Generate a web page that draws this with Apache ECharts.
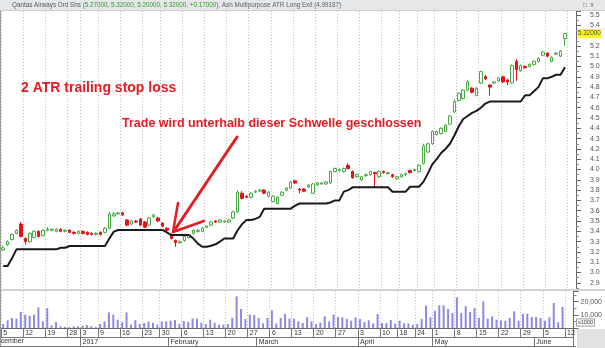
<!DOCTYPE html>
<html><head><meta charset="utf-8">
<script src="https://cdn.jsdelivr.net/npm/echarts@6/dist/echarts.min.js"></script>
<style>html,body{margin:0;padding:0;background:#fff;overflow:hidden}#c{width:605px;height:348px}</style>
</head><body><div id="c"></div>
<script>
// ---- data ----
const dates = [
'2016-12-05','2016-12-06','2016-12-07','2016-12-08','2016-12-09','2016-12-12','2016-12-13','2016-12-14','2016-12-15','2016-12-16',
'2016-12-19','2016-12-20','2016-12-21','2016-12-22','2016-12-23','2016-12-28','2016-12-29','2016-12-30',
'2017-01-03','2017-01-04','2017-01-05','2017-01-06','2017-01-09','2017-01-10','2017-01-11','2017-01-12','2017-01-13',
'2017-01-16','2017-01-17','2017-01-18','2017-01-19','2017-01-20','2017-01-23','2017-01-24','2017-01-25','2017-01-27','2017-01-30','2017-01-31',
'2017-02-01','2017-02-02','2017-02-03','2017-02-06','2017-02-07','2017-02-08','2017-02-09','2017-02-10','2017-02-13','2017-02-14','2017-02-15','2017-02-16','2017-02-17',
'2017-02-20','2017-02-21','2017-02-22','2017-02-23','2017-02-24','2017-02-27','2017-02-28',
'2017-03-01','2017-03-02','2017-03-03','2017-03-06','2017-03-07','2017-03-08','2017-03-09','2017-03-10','2017-03-13','2017-03-14','2017-03-15','2017-03-16','2017-03-17',
'2017-03-20','2017-03-21','2017-03-22','2017-03-23','2017-03-24','2017-03-27','2017-03-28','2017-03-29','2017-03-30','2017-03-31',
'2017-04-03','2017-04-04','2017-04-05','2017-04-06','2017-04-07','2017-04-10','2017-04-11','2017-04-12','2017-04-13',
'2017-04-18','2017-04-19','2017-04-20','2017-04-21','2017-04-24','2017-04-26','2017-04-27','2017-04-28',
'2017-05-01','2017-05-02','2017-05-03','2017-05-04','2017-05-05','2017-05-08','2017-05-09','2017-05-10','2017-05-11','2017-05-12',
'2017-05-15','2017-05-16','2017-05-17','2017-05-18','2017-05-19','2017-05-22','2017-05-23','2017-05-24','2017-05-25','2017-05-26',
'2017-05-29','2017-05-30','2017-05-31','2017-06-01','2017-06-02','2017-06-05','2017-06-06','2017-06-07','2017-06-08','2017-06-09'
];
const padDates = ['2017-06-12','2017-06-13'];

const open = [
3.22,3.27,3.32,3.38,3.47,3.33,3.30,3.34,3.40,3.36,
3.41,3.41,3.40,3.42,3.40,3.41,3.39,3.38,3.40,3.39,
3.38,3.37,3.39,3.39,3.43,3.55,3.57,3.58,3.51,3.47,
3.50,3.52,3.49,3.46,3.54,3.53,3.48,3.43,3.37,3.31,
3.29,3.31,3.34,3.38,3.40,3.40,3.44,3.46,3.50,3.49,
3.49,3.49,3.53,3.59,3.77,3.74,3.73,3.78,3.79,3.80,
3.74,3.69,3.67,3.75,3.80,3.82,3.89,3.81,3.81,3.83,
3.77,3.85,3.86,3.86,3.87,3.98,3.99,3.98,4.04,3.98,
3.93,3.90,3.94,3.95,3.97,3.93,3.98,3.96,3.95,3.91,
3.93,3.95,3.99,3.99,3.98,4.06,4.17,4.25,4.34,4.35,
4.37,4.44,4.56,4.67,4.69,4.77,4.79,4.72,4.84,4.90,
4.82,4.84,4.86,4.90,4.87,4.84,5.05,4.96,5.00,5.00,
5.02,5.05,5.11,5.13,5.05,5.12,5.10,5.27
];
const high = [
3.26,3.31,3.38,3.42,3.49,3.34,3.39,3.41,3.41,3.42,
3.44,3.43,3.43,3.43,3.42,3.42,3.40,3.41,3.41,3.40,
3.39,3.39,3.40,3.44,3.59,3.59,3.59,3.59,3.52,3.51,
3.51,3.53,3.50,3.54,3.57,3.54,3.49,3.44,3.38,3.32,
3.31,3.36,3.37,3.42,3.42,3.44,3.46,3.50,3.51,3.52,
3.51,3.52,3.60,3.80,3.79,3.75,3.78,3.80,3.81,3.81,
3.79,3.75,3.74,3.79,3.83,3.89,3.90,3.82,3.82,3.86,
3.87,3.88,3.88,3.89,3.99,4.02,4.01,4.02,4.06,3.99,
3.96,3.94,3.96,3.99,3.98,3.99,3.99,3.98,3.96,3.94,
3.96,3.97,4.00,4.01,4.05,4.25,4.26,4.38,4.38,4.41,
4.44,4.53,4.68,4.75,4.78,4.87,4.80,4.80,4.96,4.92,
4.83,4.86,4.90,4.91,4.88,5.02,5.07,5.02,5.01,5.03,
5.06,5.09,5.15,5.14,5.10,5.14,5.16,5.32
];
const low = [
3.21,3.26,3.31,3.37,3.34,3.27,3.29,3.33,3.34,3.35,
3.40,3.40,3.39,3.39,3.39,3.38,3.37,3.37,3.37,3.36,
3.36,3.36,3.36,3.38,3.42,3.54,3.56,3.55,3.45,3.46,
3.48,3.45,3.43,3.45,3.53,3.49,3.44,3.40,3.32,3.25,
3.28,3.30,3.33,3.37,3.39,3.39,3.43,3.45,3.48,3.48,
3.48,3.48,3.52,3.58,3.71,3.72,3.72,3.77,3.78,3.76,
3.73,3.68,3.66,3.74,3.79,3.81,3.86,3.77,3.78,3.82,
3.76,3.84,3.85,3.85,3.86,3.97,3.98,3.97,4.00,3.91,
3.92,3.89,3.93,3.94,3.83,3.92,3.96,3.95,3.92,3.90,
3.92,3.94,3.96,3.98,3.97,4.05,4.16,4.24,4.33,4.34,
4.36,4.43,4.55,4.66,4.68,4.76,4.74,4.71,4.83,4.87,
4.72,4.83,4.85,4.84,4.82,4.83,4.86,4.95,4.98,4.99,
5.01,5.04,5.10,5.09,5.04,5.11,5.09,5.20
];
const close = [
3.24,3.30,3.37,3.41,3.35,3.30,3.38,3.40,3.35,3.41,
3.42,3.42,3.42,3.40,3.41,3.39,3.38,3.40,3.38,3.37,
3.37,3.38,3.37,3.43,3.57,3.57,3.58,3.56,3.46,3.50,
3.49,3.46,3.44,3.53,3.56,3.50,3.45,3.41,3.33,3.29,
3.30,3.35,3.36,3.41,3.41,3.43,3.45,3.49,3.49,3.51,
3.50,3.51,3.59,3.78,3.72,3.73,3.77,3.79,3.80,3.77,
3.78,3.74,3.73,3.78,3.82,3.88,3.87,3.80,3.79,3.85,
3.86,3.87,3.87,3.88,3.98,4.01,4.00,4.01,4.01,3.92,
3.95,3.93,3.95,3.98,3.96,3.98,3.97,3.97,3.93,3.93,
3.95,3.96,3.97,4.00,4.04,4.23,4.25,4.37,4.37,4.40,
4.43,4.52,4.66,4.74,4.77,4.85,4.75,4.79,4.95,4.88,
4.80,4.85,4.89,4.85,4.85,5.01,4.97,5.01,4.99,5.02,
5.05,5.08,5.14,5.10,5.09,5.13,5.15,5.32
];
const stop = [
3.063,3.063,3.14,3.225,3.225,3.225,3.225,3.225,3.225,3.225,
3.225,3.225,3.225,3.24,3.24,3.257,3.257,3.257,3.257,3.257,
3.257,3.257,3.257,3.257,3.33,3.397,3.413,3.413,3.413,3.413,
3.413,3.413,3.413,3.413,3.413,3.413,3.413,3.39,3.364,3.364,
3.364,3.364,3.364,3.33,3.28,3.25,3.25,3.26,3.274,3.30,
3.33,3.33,3.33,3.41,3.47,3.51,3.51,3.52,3.54,3.62,
3.62,3.62,3.62,3.62,3.62,3.62,3.65,3.67,3.67,3.67,
3.67,3.67,3.67,3.67,3.68,3.70,3.70,3.785,3.80,3.827,
3.827,3.827,3.827,3.827,3.827,3.827,3.827,3.827,3.785,3.785,
3.785,3.785,3.833,3.833,3.833,3.88,3.96,4.05,4.10,4.16,
4.20,4.25,4.33,4.42,4.49,4.52,4.55,4.57,4.60,4.64,
4.66,4.66,4.66,4.66,4.66,4.66,4.66,4.66,4.72,4.72,
4.76,4.80,4.885,4.885,4.90,4.92,4.92,4.99187
];
const volume = [
3000,5800,7600,7100,12100,10100,9300,10100,15600,5000,
15100,2000,4500,1300,800,600,1300,1300,1800,2300,
1300,600,3000,5000,11800,10100,6300,4300,11800,2500,
6000,3000,3800,4800,4000,2500,5000,5000,5500,6000,
3000,5300,4500,7100,7100,4000,3000,6300,4000,2500,
2500,3000,7600,23900,14400,6800,10100,9800,7600,3500,
7600,13400,3500,7600,10800,7100,7100,5000,3800,8300,
5000,3000,4000,8800,5000,10100,8300,8100,6800,5500,
8100,6800,4500,5800,3500,10600,3800,3800,6000,3300,
5500,3500,3500,2500,3000,6800,16900,8100,13100,17100,
17100,14400,11300,23200,11300,16400,12100,15100,7600,20200,
7100,8800,6300,5800,5500,7600,12600,5500,10800,10800,
8300,8300,7600,5500,8100,18900,4300,15900
];
const yTicksFmt = v => v.toFixed(1);
const monthNames = ['2017','February','March','April','May','June','July','August','September','October','November','December'];

// ---- build ----
const cats = dates.concat(padDates);
const dObj = cats.map(s => new Date(s + 'T00:00:00Z'));
function isWeekStart(i){ return i === 0 || dObj[i].getUTCDay() <= dObj[i-1].getUTCDay() || (dObj[i]-dObj[i-1]) > 6*864e5; }
function isMonthStart(i){ return i > 0 && dObj[i].getUTCMonth() !== dObj[i-1].getUTCMonth(); }
const candles = dates.map((d,i)=>[open[i], close[i], low[i], high[i]]);
const N = dates.length;

const chart = echarts.init(document.getElementById('c'), null, {renderer:'canvas'});
const FONT = 'Liberation Sans, Arial, sans-serif';
const dotted = {show:true, interval:(i)=>isWeekStart(i), lineStyle:{color:'#c2c2c2', type:[1,2], width:1}};

chart.setOption({
  animation:false,
  backgroundColor:'#ffffff',
  textStyle:{fontFamily:FONT},
  grid:[
    {left:1, right:29, top:11, height:278},
    {left:1, right:29, top:291, height:37}
  ],
  xAxis:[
    {type:'category', gridIndex:0, data:cats, boundaryGap:true,
     axisLine:{show:false}, axisTick:{show:false}, axisLabel:{show:false}, splitLine:dotted},
    {type:'category', gridIndex:1, data:cats, boundaryGap:true,
     axisLine:{show:true, lineStyle:{color:'#666', width:1}},
     axisTick:{show:true, interval:(i)=>isWeekStart(i), length:9, lineStyle:{color:'#777'}},
     axisLabel:{show:true, interval:(i)=>isWeekStart(i), formatter:(v)=>String(new Date(v+'T00:00:00Z').getUTCDate()),
       align:'left', margin:2, fontSize:7, color:'#333', fontFamily:FONT},
     splitLine:dotted},
    {type:'category', gridIndex:1, data:cats, boundaryGap:true, position:'bottom', offset:9,
     axisLine:{show:true, lineStyle:{color:'#777', width:1}},
     axisTick:{show:true, interval:(i)=>isMonthStart(i), length:9, lineStyle:{color:'#777'}},
     axisLabel:{show:true, interval:(i)=>isMonthStart(i), formatter:(v)=>monthNames[new Date(v+'T00:00:00Z').getUTCMonth()],
       align:'left', margin:2, fontSize:7, color:'#333', fontFamily:FONT},
     splitLine:{show:false}}
  ],
  yAxis:[
    {type:'value', gridIndex:0, position:'right', min:2.84, max:5.539, splitNumber:27,
     axisLine:{show:true, lineStyle:{color:'#666'}},
     axisTick:{show:true, length:5, lineStyle:{color:'#666'}},
     minorTick:{show:true, splitNumber:2, length:3, lineStyle:{color:'#888'}},
     axisLabel:{showMinLabel:false, showMaxLabel:false, formatter:yTicksFmt, fontSize:7, color:'#555', margin:14, fontFamily:FONT},
     splitLine:{show:false}},
    {type:'value', gridIndex:1, position:'right', min:0, max:28000, interval:10000,
     axisLine:{show:true, lineStyle:{color:'#666'}},
     axisTick:{show:true, length:5, lineStyle:{color:'#666'}},
     minorTick:{show:true, splitNumber:2, length:3, lineStyle:{color:'#888'}},
     axisLabel:{showMinLabel:false, showMaxLabel:false, fontSize:7, color:'#555', margin:7, fontFamily:FONT},
     splitLine:{show:false}}
  ],
  series:[
    {type:'candlestick', xAxisIndex:0, yAxisIndex:0, data:candles, barWidth:3,
     itemStyle:{color:'#ffffff', color0:'#e3121b', borderColor:'#4aaa44', borderColor0:'#e3121b', borderWidth:1}},
    {type:'line', xAxisIndex:0, yAxisIndex:0, data:stop, symbol:'none', z:3,
     lineStyle:{color:'#1a1a1a', width:2}},
    {type:'bar', xAxisIndex:1, yAxisIndex:1, data:volume, barWidth:2,
     itemStyle:{color:'#8a8ae6'}}
  ]
});

// ---- overlay graphics ----
const last = N - 1;
const chg = close[last] - close[last-1];
const py = chart.convertToPixel({yAxisIndex:0}, close[last]);
const x0 = chart.convertToPixel({xAxisIndex:2}, cats[0]);
const header = '{a|Qantas Airways Ord Shs }{b|(' + open[last].toFixed(5) + ', ' + high[last].toFixed(5) + ', ' + low[last].toFixed(5) + ', ' + close[last].toFixed(5) + ', ' + (chg>=0?'+':'') + chg.toFixed(5) + ')}{c|, Ash Multipurpose ATR Long Exit (' + stop[last].toFixed(5) + ')}';
const RED = '#e41c23';
chart.setOption({graphic:[
  {type:'rect', shape:{x:0,y:0,width:605,height:10}, style:{fill:'#e6e7e9'}, z:100},
  {type:'line', shape:{x1:0,y1:10.5,x2:605,y2:10.5}, style:{stroke:'#cfcfcf', lineWidth:1}, z:100},
  {type:'text', x:12, y:5, z:101, style:{text:header, fontSize:6.3, fontFamily:FONT, verticalAlign:'middle',
     rich:{a:{fill:'#4d5966', fontSize:6.3, fontFamily:FONT}, b:{fill:'#2f9a2f', fontSize:6.3, fontFamily:FONT}, c:{fill:'#5a6470', fontSize:6.3, fontFamily:FONT}}}},
  {type:'text', x:583, y:5, z:101, style:{text:'\u25A1  x', fontSize:6.5, fill:'#666', verticalAlign:'middle', fontFamily:FONT}},
  {type:'rect', shape:{x:0,y:289,width:605,height:2}, style:{fill:'#d2d2d2'}, z:50},
  {type:'line', shape:{x1:0.5,y1:10,x2:0.5,y2:346}, style:{stroke:'#9a9a9a', lineWidth:1}, z:50},
  {type:'line', shape:{x1:0,y1:346.5,x2:576,y2:346.5}, style:{stroke:'#777', lineWidth:1}, z:50},
  {type:'rect', shape:{x:577,y:329,width:28,height:19}, style:{fill:'#e2e2e2'}, z:50},
  {type:'text', x:x0-11.5, y:341.5, z:60, style:{text:'December', fontSize:7, fill:'#333', verticalAlign:'middle', fontFamily:FONT}},
  {type:'text', x:577, y:322.5, z:60, style:{text:'x1000', fontSize:5.5, fill:'#444', verticalAlign:'middle', fontFamily:FONT,
     borderColor:'#888', borderWidth:0.8, padding:[0.5,1,0,1], backgroundColor:'#f4f4f4'}},
  {type:'rect', shape:{x:577,y:py-4.5,width:24,height:9}, style:{fill:'#ffff00'}, z:60},
  {type:'text', x:578, y:py, z:61, style:{text:close[last].toFixed(5), fontSize:6.3, fill:'#444', verticalAlign:'middle', fontFamily:FONT}},
  {type:'text', x:21, y:88, z:70, style:{text:'2 ATR trailing stop loss', font:'bold 14px ' + FONT, fill:RED, verticalAlign:'middle'}},
  {type:'text', x:122, y:124, z:70, style:{text:'Trade wird unterhalb dieser Schwelle geschlossen', font:'bold 12.5px ' + FONT, fill:RED, verticalAlign:'middle'}},
  {type:'polyline', z:70, shape:{points:[[237,137],[174,231]]}, style:{stroke:RED, lineWidth:3, lineCap:'round'}},
  {type:'polyline', z:70, shape:{points:[[178,203],[173,232],[204,221]]}, style:{stroke:RED, lineWidth:2.5, fill:null, lineCap:'round', lineJoin:'round'}}
]});
</script>
</body></html>
